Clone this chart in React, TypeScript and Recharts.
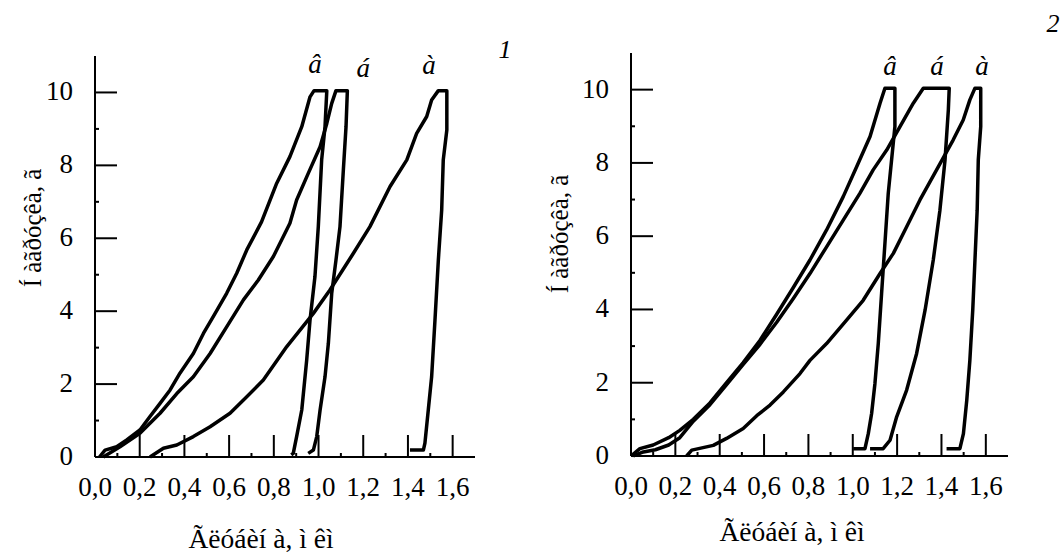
import React from "react";
import { LineChart, Line, XAxis, YAxis, ReferenceDot } from "recharts";

// depth (x) and load (y), one pair of arrays per curve
const leftV_depth = [0.02, 0.045, 0.097, 0.142, 0.201, 0.246, 0.291, 0.336, 0.38, 0.44, 0.485, 0.529, 0.589, 0.634, 0.679, 0.745, 0.813, 0.872, 0.925, 0.962, 0.98, 1.037, 1.029, 1.014, 0.999, 0.984, 0.962, 0.947, 0.925, 0.902, 0.887, 0.878];
const leftV_load = [0, 0.19, 0.28, 0.47, 0.74, 1.11, 1.47, 1.84, 2.3, 2.84, 3.39, 3.85, 4.49, 5.04, 5.68, 6.45, 7.51, 8.24, 9.06, 9.88, 10.05, 10.05, 9.06, 8.15, 6.32, 4.95, 3.76, 2.66, 1.29, 0.56, 0.1, 0.06];

const leftB_depth = [0.037, 0.112, 0.201, 0.291, 0.366, 0.44, 0.515, 0.589, 0.664, 0.73, 0.798, 0.872, 0.902, 0.954, 1.007, 1.037, 1.059, 1.078, 1.129, 1.123, 1.111, 1.096, 1.078, 1.059, 1.044, 1.029, 1.007, 0.992, 0.977, 0.954];
const leftB_load = [0, 0.28, 0.65, 1.2, 1.74, 2.2, 2.84, 3.57, 4.31, 4.85, 5.5, 6.41, 7.05, 7.78, 8.51, 9.15, 9.7, 10.05, 10.05, 9.06, 7.87, 6.32, 5.4, 4.49, 3.12, 2.2, 1.29, 0.56, 0.19, 0.1];

const leftA_depth = [0.246, 0.306, 0.366, 0.44, 0.515, 0.604, 0.679, 0.753, 0.858, 0.977, 1.051, 1.156, 1.23, 1.32, 1.395, 1.439, 1.484, 1.506, 1.536, 1.574, 1.574, 1.558, 1.551, 1.536, 1.521, 1.506, 1.491, 1.476, 1.469, 1.409];
const leftA_load = [0, 0.24, 0.33, 0.56, 0.83, 1.2, 1.65, 2.11, 3.03, 3.94, 4.58, 5.59, 6.32, 7.42, 8.15, 8.88, 9.34, 9.79, 10.05, 10.05, 8.97, 8.15, 6.78, 5.4, 3.76, 2.2, 1.29, 0.38, 0.19, 0.19];

const rightV_depth = [0, 0.04, 0.1, 0.17, 0.22, 0.281, 0.356, 0.431, 0.506, 0.582, 0.657, 0.732, 0.807, 0.882, 0.957, 1.018, 1.078, 1.123, 1.145, 1.19, 1.19, 1.175, 1.16, 1.145, 1.13, 1.115, 1.1, 1.085, 1.07, 1.055, 1.002];
const rightV_load = [0, 0.2, 0.3, 0.5, 0.7, 1.0, 1.45, 2.0, 2.55, 3.16, 3.87, 4.6, 5.35, 6.17, 7.08, 7.9, 8.72, 9.63, 10.04, 10.04, 8.99, 8.08, 7.17, 5.8, 4.44, 3.07, 1.98, 1.16, 0.61, 0.2, 0.2];

const rightB_depth = [0.01, 0.05, 0.11, 0.17, 0.22, 0.281, 0.356, 0.431, 0.506, 0.582, 0.657, 0.732, 0.807, 0.882, 0.957, 1.032, 1.092, 1.153, 1.213, 1.273, 1.318, 1.435, 1.431, 1.416, 1.393, 1.363, 1.326, 1.288, 1.243, 1.198, 1.168, 1.137, 1.078];
const rightB_load = [0, 0.1, 0.17, 0.3, 0.5, 0.95, 1.4, 1.95, 2.5, 3.05, 3.65, 4.3, 4.98, 5.71, 6.44, 7.17, 7.81, 8.35, 8.99, 9.63, 10.04, 10.04, 9.45, 8.08, 6.71, 5.35, 3.98, 2.8, 1.8, 1.07, 0.43, 0.2, 0.2];

const rightA_depth = [0.251, 0.274, 0.371, 0.431, 0.506, 0.567, 0.627, 0.687, 0.762, 0.807, 0.882, 0.972, 1.047, 1.123, 1.183, 1.243, 1.303, 1.378, 1.453, 1.498, 1.528, 1.551, 1.577, 1.577, 1.566, 1.561, 1.551, 1.541, 1.528, 1.514, 1.499, 1.483, 1.423];
const rightA_load = [0, 0.16, 0.29, 0.48, 0.75, 1.1, 1.39, 1.75, 2.25, 2.61, 3.07, 3.71, 4.25, 4.98, 5.53, 6.26, 6.99, 7.81, 8.63, 9.17, 9.72, 10.04, 10.04, 8.99, 8.08, 6.71, 5.35, 3.98, 2.61, 1.52, 0.61, 0.2, 0.2];

// curve letters and where they sit (data units)
const curveLetters = ["â", "á", "à"];
const leftLetterX = [0.984, 1.2, 1.494];
const leftLetterY = [10.79, 10.68, 10.76];
const rightLetterX = [1.168, 1.38, 1.583];
const rightLetterY = [10.66, 10.66, 10.66];

const xTicks = [0, 0.1, 0.2, 0.3, 0.4, 0.5, 0.6, 0.7, 0.8, 0.9, 1.0, 1.1, 1.2, 1.3, 1.4, 1.5, 1.6];
const yTicks = [0, 1, 2, 3, 4, 5, 6, 7, 8, 9, 10];

const xTitle = "Ãëóáèí à, ì êì";
const yTitle = "Í àãðóçêà, ã";

const FONT = "Liberation Serif, Times New Roman, serif";

const zip = (xs: number[], ys: number[]) => xs.map((x, i) => ({ x, y: ys[i] }));

const XTick = (props: any) => {
  const { x, y, payload } = props;
  const v = payload.value;
  const major = Math.round(v * 10) % 2 === 0;
  return (
    <g>
      <line x1={x} x2={x} y1={y} y2={y - (major ? 22 : 4)} stroke="#000" strokeWidth={2} />
      {major && (
        <text x={x} y={y + 39} textAnchor="middle" style={{ fontFamily: FONT, fontSize: 27 }} fill="#000">
          {v.toFixed(1).replace(".", ",")}
        </text>
      )}
    </g>
  );
};

const YTick = (props: any) => {
  const { x, y, payload } = props;
  const v = payload.value;
  const major = v % 2 === 0;
  return (
    <g>
      <line x1={x} x2={x + (major ? 22 : 4)} y1={y} y2={y} stroke="#000" strokeWidth={2} />
      {major && (
        <text x={x - 22} y={y + 8} textAnchor="end" style={{ fontFamily: FONT, fontSize: 27 }} fill="#000">
          {v}
        </text>
      )}
    </g>
  );
};

type PanelProps = {
  curves: { x: number; y: number }[][];
  letterX: number[];
  letterY: number[];
  top: number;
  width: number;
  yAxisWidth: number;
  xAxisHeight: number;
};

function Panel({ curves, letterX, letterY, top, width, yAxisWidth, xAxisHeight }: PanelProps) {
  return (
    <LineChart width={width} height={555} margin={{ top, right: 55, bottom: 0, left: 0 }}>
      <XAxis
        type="number"
        dataKey="x"
        domain={[0, 1.7]}
        ticks={xTicks}
        interval={0}
        height={xAxisHeight}
        tickSize={0}
        tickMargin={0}
        tickLine={false}
        axisLine={{ stroke: "#000", strokeWidth: 2 }}
        tick={<XTick />}
      />
      <YAxis
        type="number"
        domain={[0, 11]}
        ticks={yTicks}
        interval={0}
        width={yAxisWidth}
        tickSize={0}
        tickMargin={0}
        tickLine={false}
        axisLine={{ stroke: "#000", strokeWidth: 2 }}
        tick={<YTick />}
      />
      {curves.map((c, i) => (
        <Line
          key={i}
          data={c}
          dataKey="y"
          type="linear"
          stroke="#000"
          strokeWidth={3.5}
          strokeLinejoin="round"
          dot={false}
          activeDot={false}
          isAnimationActive={false}
        />
      ))}
      {curveLetters.map((t, i) => (
        <ReferenceDot
          key={t}
          x={letterX[i]}
          y={letterY[i]}
          r={0}
          fill="none"
          stroke="none"
          label={{ value: t, position: "center", fontSize: 27, fontStyle: "italic", fontFamily: FONT, fill: "#000" }}
        />
      ))}
    </LineChart>
  );
}

export default function App() {
  const titleStyle = { fontFamily: FONT, fontSize: 27.5 };
  const yTitleStyle = { fontFamily: FONT, fontSize: 25 };
  return (
    <div style={{ position: "absolute", left: 0, top: 0, width: 1063, height: 555, background: "#fff" }}>
      <div style={{ position: "absolute", left: 0, top: 0 }}>
        <Panel
          curves={[zip(leftV_depth, leftV_load), zip(leftB_depth, leftB_load), zip(leftA_depth, leftA_load)]}
          letterX={leftLetterX}
          letterY={leftLetterY}
          top={56}
          width={530}
          yAxisWidth={95}
          xAxisHeight={98}
        />
      </div>
      <div style={{ position: "absolute", left: 535, top: 0 }}>
        <Panel
          curves={[zip(rightV_depth, rightV_load), zip(rightB_depth, rightB_load), zip(rightA_depth, rightA_load)]}
          letterX={rightLetterX}
          letterY={rightLetterY}
          top={53}
          width={528}
          yAxisWidth={96}
          xAxisHeight={99}
        />
      </div>
      <svg width={1063} height={555} style={{ position: "absolute", left: 0, top: 0, pointerEvents: "none" }}>
        <text x={261} y={548} textAnchor="middle" fill="#000" style={titleStyle}>{xTitle}</text>
        <text x={792} y={541} textAnchor="middle" fill="#000" style={titleStyle}>{xTitle}</text>
        <text x={41} y={228} textAnchor="middle" transform="rotate(-90 41 228)" fill="#000" style={yTitleStyle}>{yTitle}</text>
        <text x={568} y={234} textAnchor="middle" transform="rotate(-90 568 234)" fill="#000" style={yTitleStyle}>{yTitle}</text>
        <text x={505} y={58} textAnchor="middle" fill="#000" style={{ fontFamily: FONT, fontSize: 26, fontStyle: "italic" }}>1</text>
        <text x={1053} y={32} textAnchor="middle" fill="#000" style={{ fontFamily: FONT, fontSize: 26, fontStyle: "italic" }}>2</text>
      </svg>
    </div>
  );
}
